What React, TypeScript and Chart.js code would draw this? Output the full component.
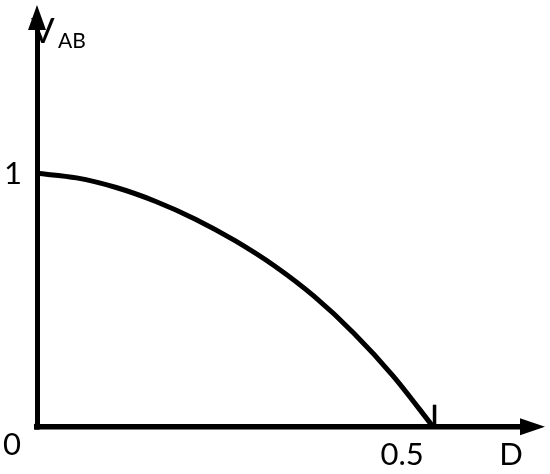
import React, { useEffect, useRef } from "react";
import { Chart, registerables } from "chart.js";

Chart.register(...registerables);

const dutyRatio = [0, 0.05, 0.1, 0.15, 0.2, 0.25, 0.3, 0.35, 0.4, 0.45, 0.5];
const vab = [1, 0.982, 0.944, 0.889, 0.819, 0.734, 0.634, 0.514, 0.369, 0.199, 0];
const xTickValues = [0.5];
const xTickLabels = ["0.5"];
const yTickValues = [1];
const yTickLabels = ["1"];
const originLabel = "0";
const xAxisTitle = "D";
const yAxisTitleMain = "V";
const yAxisTitleSub = "AB";

const FONT = "Lato, 'Open Sans', sans-serif";

const decorPlugin = {
  id: "decor",
  afterDraw(chart: any) {
    const ctx = chart.ctx as CanvasRenderingContext2D;
    const xs = chart.scales.x;
    const ys = chart.scales.y;
    const x0 = xs.getPixelForValue(0);
    const y0 = ys.getPixelForValue(0);
    ctx.save();
    ctx.fillStyle = "#000";
    ctx.strokeStyle = "#000";

    // text labels
    ctx.textBaseline = "alphabetic";
    ctx.font = `31px ${FONT}`;
    ctx.textAlign = "center";
    yTickValues.forEach((v, i) => {
      const py = ys.getPixelForValue(v);
      ctx.fillText(yTickLabels[i], x0 - 24, py + 11);
    });
    ctx.fillText(originLabel, x0 - 25, y0 + 28);
    xTickValues.forEach((v, i) => {
      const px = xs.getPixelForValue(v);
      ctx.fillText(xTickLabels[i], px - 31, y0 + 38);
    });
    ctx.fillText(xAxisTitle, 511, y0 + 38);
    ctx.textAlign = "left";
    ctx.font = `35px ${FONT}`;
    ctx.fillText(yAxisTitleMain, x0 - 6, 43);
    ctx.font = `21px ${FONT}`;
    ctx.fillText(yAxisTitleSub, x0 + 21, 48);

    // corner patch
    ctx.fillRect(x0 - 2.5, y0 - 3, 5, 6);

    // tick at 0.5
    ctx.lineWidth = 3.5;
    xTickValues.forEach((v) => {
      const px = xs.getPixelForValue(v);
      ctx.beginPath();
      ctx.moveTo(px + 1.5, y0);
      ctx.lineTo(px + 1.5, y0 - 22);
      ctx.stroke();
    });

    // y arrow
    ctx.beginPath();
    ctx.moveTo(x0, 5);
    ctx.lineTo(x0 - 9, 30);
    ctx.lineTo(x0 + 9, 30);
    ctx.closePath();
    ctx.fill();
    ctx.fillRect(x0 - 2.5, 28, 5, Math.max(0, chart.chartArea.top - 28) + 2);

    // x arrow
    ctx.beginPath();
    ctx.moveTo(545, y0);
    ctx.lineTo(520, y0 - 8.5);
    ctx.lineTo(520, y0 + 8.5);
    ctx.closePath();
    ctx.fill();
    ctx.fillRect(chart.chartArea.right - 2, y0 - 3, Math.max(0, 522 - chart.chartArea.right), 6);
    ctx.restore();
  },
};

export default function App() {
  const ref = useRef<HTMLCanvasElement | null>(null);
  useEffect(() => {
    document.body.style.margin = "0";
    const canvas = ref.current!;
    const chart = new Chart(canvas, {
      type: "line",
      data: {
        datasets: [
          {
            data: dutyRatio.map((d, i) => ({ x: d, y: vab[i] })),
            borderColor: "#000",
            borderWidth: 5,
            pointRadius: 0,
            fill: false,
            cubicInterpolationMode: "monotone",
          },
        ],
      },
      options: {
        animation: false,
        responsive: false,
        devicePixelRatio: 1,
        events: [],
        layout: { padding: { left: 37, right: 23.5, top: 21.3, bottom: 47.3 } },
        plugins: { legend: { display: false }, tooltip: { enabled: false } },
        scales: {
          x: {
            type: "linear",
            min: 0,
            max: 0.618,
            ticks: { display: false },
            grid: { display: false, drawTicks: false },
            border: { display: true, width: 5.5, color: "#000" },
          },
          y: {
            type: "linear",
            min: 0,
            max: 1.6,
            ticks: { display: false },
            grid: { display: false, drawTicks: false },
            border: { display: true, width: 5, color: "#000" },
          },
        },
      },
      plugins: [decorPlugin],
    });
    return () => chart.destroy();
  }, []);
  return <canvas ref={ref} width={550} height={474} style={{ display: "block" }} />;
}
